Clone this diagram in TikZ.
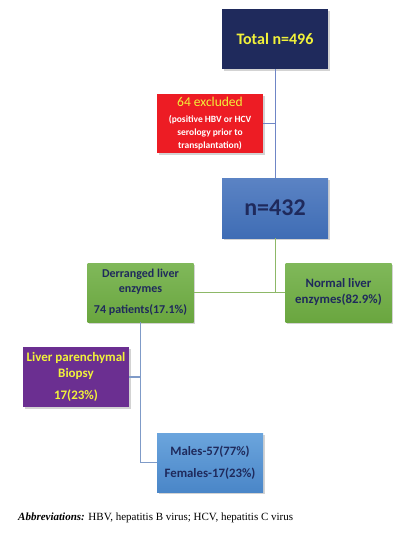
\documentclass[tikz,border=0pt]{standalone}
\usepackage{fontspec}
\setmainfont{Carlito}
\newfontfamily\capfont{Liberation Serif}
\usetikzlibrary{shadows}
\definecolor{navy}{HTML}{1F2A5C}
\definecolor{txtnavy}{HTML}{1F2A5C}
\definecolor{ylw}{HTML}{F2F23A}
\definecolor{redbox}{HTML}{ED1C24}
\definecolor{bluetop}{HTML}{5B83C4}
\definecolor{bluebot}{HTML}{3F6DB5}
\definecolor{greentop}{HTML}{80B85A}
\definecolor{greenbot}{HTML}{6AA63F}
\definecolor{purp}{HTML}{6B2F91}
\definecolor{lbtop}{HTML}{6BA5DD}
\definecolor{lbbot}{HTML}{4A86C8}
\definecolor{lineblue}{HTML}{6F86C6}
\definecolor{linegreen}{HTML}{8DB867}
\definecolor{linelb}{HTML}{7F9BC8}
\tikzset{
  box/.style={draw=none, minimum width=106pt, minimum height=60pt, align=center,
    inner sep=2pt, drop shadow={shadow xshift=1.5pt, shadow yshift=-1.5pt, opacity=0.35}},
}
\begin{document}
\begin{tikzpicture}[x=1pt,y=-1pt]
\useasboundingbox (0,0) rectangle (414,536);
\node[box, fill=navy, text=ylw, font=\bfseries\fontsize{16}{18}\selectfont] (total) at (275,39) {Total n=496};
\node[box, fill=redbox, minimum height=59pt, font=\bfseries\fontsize{9.5}{13}\selectfont, text=white] (excl) at (210,123.5)
  {{\color{ylw}\mdseries\fontsize{13.5}{15}\selectfont 64 excluded}\\[3pt](positive HBV or HCV\\serology prior to\\transplantation)};
\node[box, top color=bluetop, bottom color=bluebot, text=txtnavy, font=\bfseries\fontsize{24}{26}\selectfont] (n432) at (275,208) {n=432};
\node[box, top color=greentop, bottom color=greenbot, minimum height=59pt, text=txtnavy, font=\bfseries\fontsize{12}{15}\selectfont] (der) at (140.5,292.5)
  {Derranged liver\\enzymes\\[6pt]74 patients(17.1\%)};
\node[box, top color=greentop, bottom color=greenbot, minimum height=59pt, text=txtnavy, font=\bfseries\fontsize{12.8}{16}\selectfont] (norm) at (338.5,292.5)
  {Normal liver\\enzymes(82.9\%)};
\node[box, fill=purp, text=ylw, font=\bfseries\fontsize{13}{16}\selectfont] (bio) at (76,377)
  {Liver parenchymal\\Biopsy\\[6pt]17(23\%)};
\node[box, top color=lbtop, bottom color=lbbot, minimum height=59pt, text=txtnavy, font=\bfseries\fontsize{12.8}{15}\selectfont] (sex) at (210,462.5)
  {Males-57(77\%)\\[7pt]Females-17(23\%)};
\node[anchor=west, inner sep=0pt, font=\capfont\fontsize{11}{13}\selectfont] (cap) at (18,518)
  {\textbf{\textit{Abbreviations:}} HBV, hepatitis B virus; HCV, hepatitis C virus};
% connectors
\coordinate (j1) at (total.south |- excl.east);
\draw[lineblue, line width=0.8pt] (total.south) -- (n432.north);
\draw[lineblue, line width=0.8pt] (excl.east) -- (j1);
\coordinate (j2) at (n432.south |- der.east);
\draw[linegreen, line width=0.9pt] (n432.south) -- (j2);
\draw[linegreen, line width=0.9pt] (der.east) -- (norm.west);
\coordinate (j3) at (der.south |- bio.east);
\coordinate (j4) at (der.south |- sex.west);
\draw[linelb, line width=1.2pt] (der.south) -- (j4) -- (sex.west);
\draw[linelb, line width=1.2pt] (bio.east) -- (j3);
\end{tikzpicture}
\end{document}
